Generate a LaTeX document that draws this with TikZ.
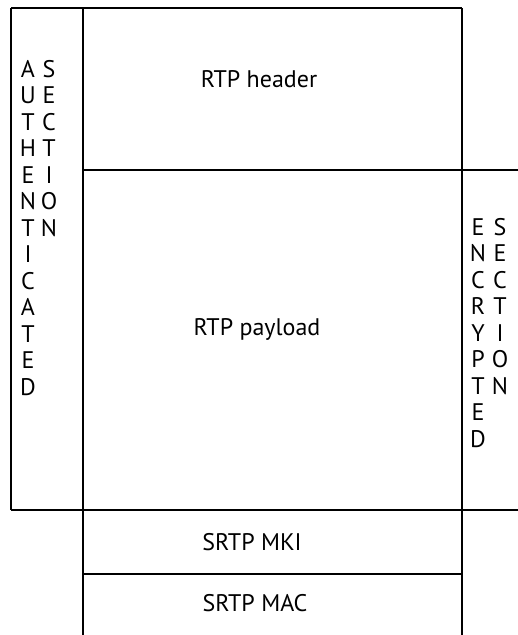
\documentclass[tikz,border=0pt]{standalone}
\usepackage{fontspec}
\setmainfont{PT Sans}
\begin{document}
\begin{tikzpicture}[x=1pt,y=-1pt,
  rule/.style={line width=1.5pt,black},
  label/.style={font=\fontsize{24}{26}\selectfont,inner sep=0pt},
  vtext/.style={font=\fontsize{24}{26.5}\selectfont,inner sep=0pt,align=center,anchor=north}]
\useasboundingbox (0,0) rectangle (518,635);
% outline
\draw[rule] (11,8) -- (462,8);
\draw[rule] (11,8) -- (11,510);
\draw[rule] (83,8) -- (83,635);
\draw[rule] (462,8) -- (462,635);
\draw[rule] (83,170) -- (518,170);
\draw[rule] (11,510) -- (518,510);
\draw[rule] (83,574) -- (462,574);
% labels
\node[label] (hdr) at (259,79.5) {RTP header};
\node[label] (pay) at (257,329) {RTP payload};
\node[label] (mki) at (252,542) {SRTP MKI};
\node[label] (mac) at (255,603) {SRTP MAC};
% vertical texts
\node[vtext] (auth) at (28,60) {A\\U\\T\\H\\E\\N\\T\\I\\C\\A\\T\\E\\D};
\node[vtext] (asec) at (49,60) {S\\E\\C\\T\\I\\O\\N};
\node[vtext] (encr) at (478,218) {E\\N\\C\\R\\Y\\P\\T\\E\\D};
\node[vtext] (esec) at (500,218) {S\\E\\C\\T\\I\\O\\N};
\end{tikzpicture}
\end{document}
